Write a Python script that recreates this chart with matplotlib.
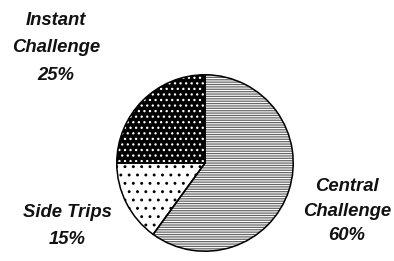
import matplotlib
matplotlib.use("Agg")
import matplotlib.pyplot as plt

categories = ["Central\nChallenge", "Side Trips", "Instant\nChallenge"]
values = [60, 15, 25]
pct_labels = ["60%", "15%", "25%"]

W, H = 394, 261
fig = plt.figure(figsize=(W / 100, H / 100), dpi=100)
fig.patch.set_facecolor("white")

cx, cy, r = 205, 163, 90
ax = fig.add_axes([(cx - r) / W, (H - cy - r) / H, 2 * r / W, 2 * r / H])
ax.set_aspect("equal")
ax.axis("off")

plt.rcParams["hatch.linewidth"] = 0.9
faces = ["white", "white", "black"]
hatch_cols = ["#666666", "black", "white"]
hatches = ["-------", "..", "..."]

wedges, _ = ax.pie(values, startangle=90, counterclock=False, radius=1,
                   colors=faces, wedgeprops=dict(linewidth=0))
for w, hc, h in zip(wedges, hatch_cols, hatches):
    w.set_hatch(h)
    w.set_edgecolor(hc)
    w.set_linewidth(0)

# outlines
ax.pie(values, startangle=90, counterclock=False, radius=1,
       wedgeprops=dict(fill=False, edgecolor="black", linewidth=1.1))
ax.set_xlim(-1.02, 1.02)
ax.set_ylim(-1.02, 1.02)

font = dict(family="Liberation Sans", weight="bold", style="italic",
            fontsize=13.3, ha="center", va="center", color="#111111")
pos = [(347, 211), (67, 226), (56, 48)]
spacings = [1.6, 1.7, 1.8]
for cat, p, (x, y), ls in zip(categories, pct_labels, pos, spacings):
    fig.text(x / W, 1 - y / H, cat + "\n" + p, linespacing=ls, **font)

fig.savefig("out.png", dpi=100, facecolor="white")
